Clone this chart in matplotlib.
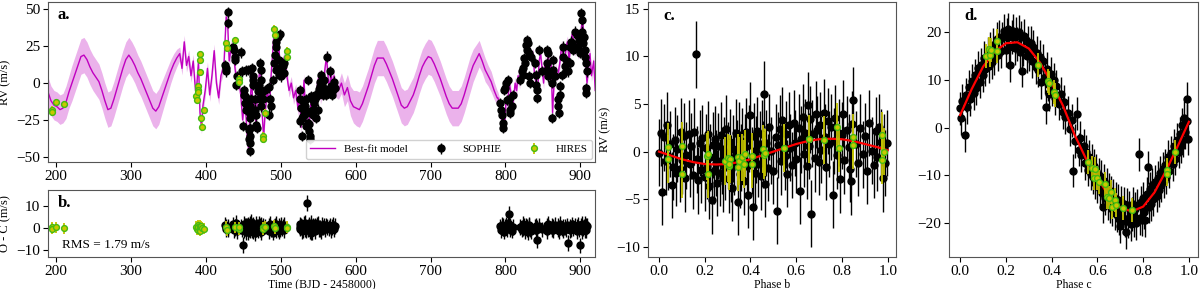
import numpy as np
import matplotlib
matplotlib.use("Agg")
import matplotlib.pyplot as plt

plt.rcParams['font.family'] = 'serif'
plt.rcParams['font.serif'] = ['Liberation Serif', 'DejaVu Serif']
plt.rcParams['mathtext.fontset'] = 'stix'

# ---- SOPHIE radial velocities (time, RV, O-C) ----
sophie_t = [426.0, 426.2, 426.5, 429.5, 429.6, 436.2, 437.5, 438.4, 438.5, 440.7,
            442.0, 447.3, 448.2, 449.6, 450.5, 450.9, 451.8, 451.9, 453.1, 454.0,
            455.0, 456.3, 456.5, 457.6, 458.0, 458.5, 458.6, 458.7, 458.8, 458.9,
            459.0, 459.2, 460.7, 462.1, 462.2, 462.3, 462.9, 463.8, 465.2, 465.3,
            466.5, 467.4, 467.6, 469.6, 471.4, 471.9, 472.7, 472.9, 473.0, 473.2,
            474.0, 476.3, 478.5, 483.9, 484.3, 485.2, 487.4, 489.7, 491.0, 491.9,
            493.2, 494.1, 494.2, 496.4, 497.5, 498.0, 498.6, 498.8, 500.2, 501.0,
            503.0, 503.9, 504.5, 525.3, 525.5, 527.5, 527.8, 528.9, 532.0, 532.3,
            534.2, 535.2, 536.5, 536.7, 537.8, 538.7, 539.0, 541.0, 541.5, 543.1,
            543.4, 545.4, 546.0, 547.6, 549.8, 552.0, 552.8, 554.3, 555.0, 557.4,
            558.5, 560.1, 562.3, 564.1, 566.3, 567.0, 569.0, 569.5, 571.0, 572.5,
            526.0, 529.5, 530.5, 533.0, 538.0, 540.0, 544.0, 548.5, 550.5, 556.0,
            792.6, 793.5, 794.9, 796.2, 797.1, 798.0, 799.3, 801.5, 802.4, 803.8,
            805.1, 806.0, 806.2, 808.2, 819.4, 821.6, 823.0, 823.8, 824.7, 826.1,
            827.4, 828.3, 829.2, 830.5, 831.9, 832.0, 832.8, 839.4, 840.8, 841.0,
            841.7, 842.5, 855.0, 855.2, 855.4, 857.3, 857.5, 861.7, 863.0, 864.0,
            866.2, 870.6, 870.8, 872.0, 872.9, 873.1, 875.1, 876.4, 877.3, 879.5,
            880.9, 881.8, 884.0, 886.2, 886.4, 888.4, 890.7, 892.9, 895.1, 895.3,
            897.4, 898.7, 899.6, 900.9, 901.8, 902.7, 904.0, 904.9, 906.3, 907.6,
            907.6, 907.8, 908.5, 906.0, 888.0, 862.5, 834.0, 810.0, 844.6, 849.0]
sophie_rv = [12.4, 7.9, 10.0, 47.9, 41.0, 24.8, 22.6, 18.0, 15.8, -1.0,
             5.0, 20.8, 7.9, -29.3, -4.5, -8.0, -9.0, -13.5, -18.0, 8.6,
             -15.0, 9.0, -11.0, -31.6, -38.0, -15.8, -20.0, -23.7, -30.5, -35.7,
             -40.6, -46.0, -11.0, 10.0, 4.5, -1.0, 2.0, -20.0, -11.0, -18.0,
             -21.4, -28.2, -30.5, -5.6, -1.0, -11.0, 13.5, 9.0, 2.3, -15.8,
             -9.0, -11.0, -4.5, -2.9, -21.4, -11.0, -15.8, 2.3, 13.5, 19.0,
             24.8, 28.2, 9.0, 31.6, 5.6, 15.8, 33.2, 10.0, 4.5, 13.5,
             11.3, 6.8, 13.5, -4.5, -11.0, -17.0, -23.7, -36.0, -15.8, -20.3,
             -11.0, -20.0, 2.3, -27.0, -32.7, -36.0, -38.0, -9.0, -11.0, -21.4,
             -18.0, -11.0, -7.9, -23.7, -18.0, 1.0, -2.3, 5.6, -1.0, 2.3,
             -4.0, -7.9, 18.0, -4.5, 7.9, -2.0, -7.9, -4.5, 1.0, -3.0,
             -26.0, -22.6, -13.0, -29.0, -28.0, -19.0, -13.5, -9.0, -4.0, -8.0,
             -13.5, -18.0, -21.4, -27.0, -30.5, -4.5, -3.4, 0.0, -11.3, 2.3,
             -10.8, -18.0, -20.0, -15.8, 2.3, 7.9, 10.0, 5.6, 17.0, 13.5,
             26.0, 22.6, 29.3, 27.0, 20.3, 4.5, 0.0, 13.5, 5.6, -1.0,
             -4.5, -10.0, 22.6, 13.5, 9.0, 20.3, 4.5, -23.7, 9.0, 15.8,
             4.5, -11.0, -15.8, -20.3, -7.9, -2.3, 5.6, 24.8, 18.0, 11.3,
             7.9, 14.7, 7.9, 13.5, 24.8, 27.0, 22.6, 35.0, 32.7, 24.8,
             24.8, 29.3, 20.3, 47.4, 43.0, 35.0, 27.0, 31.6, 22.6, 13.5,
             -3.4, -6.8, 7.9, 18.0, 28.2, 0.0, 18.0, -8.0, 22.6, 8.0]
sophie_oc = [1.2, -0.8, 0.5, 0.3, -0.6, 1.5, -1.0, 0.4, -0.3, 2.2,
             -1.5, 0.6, -0.9, -7.8, 1.8, -1.2, 0.7, -0.4, 1.1, -2.0,
             0.8, 1.4, -2.1, 0.2, -0.7, 1.9, -1.3, 0.5, -0.2, 1.0,
             -0.5, 0.9, 2.5, -1.0, 0.3, -1.8, 1.2, 0.6, -2.4, 0.1,
             1.6, -0.8, 0.4, -1.1, 2.0, 0.7, -0.6, 1.3, -1.9, 0.2,
             -0.9, 1.1, 0.6, -1.4, 0.8, 1.7, -0.5, -2.2, 0.4, 1.0,
             -1.2, 0.3, 1.9, -0.6, -1.6, 0.9, 0.2, -0.8, 1.4, -0.3,
             0.6, -1.0, 1.2, 1.5, -0.4, 0.8, -1.7, 0.3, 2.1, -0.9,
             -1.1, 11.2, 0.5, -0.7, 1.4, -1.5, 0.2, 2.3, -2.0, 0.9,
             -0.3, 1.0, -1.4, 0.6, 1.8, -0.8, 0.2, -1.6, 1.3, 0.7,
             -0.5, 1.1, 0.4, -0.2, 0.9, -1.0, 0.3, 1.2, -0.6, 0.8,
             0.4, -1.2, 1.6, -0.3, 0.9, -2.2, 0.5, 1.4, -0.7, 0.2,
             0.6, -1.1, 1.4, -0.4, 0.9, -1.8, 0.3, 1.2, -0.7, 2.0,
             6.3, -0.5, 1.0, -1.3, 0.4, -0.9, 1.6, -0.2, 0.8, -1.5,
             1.1, -0.6, 0.3, -1.9, 0.7, 1.4, -0.8, 0.5, -1.2, 0.9,
             -5.6, 0.2, -1.4, 1.0, -0.3, 0.6, 1.7, -0.9, 0.4, -1.1,
             1.3, -0.7, 0.9, -1.6, 0.2, 1.8, -0.4, 0.6, -1.3, 0.3,
             -0.8, 1.1, -6.8, 0.5, -1.0, 1.5, -0.2, 0.9, -1.7, 0.4,
             1.2, -0.5, -8.0, 0.8, -1.4, 1.7, -0.3, 0.6, -1.1, 1.0,
             0.3, -1.2, 0.7, 1.9, -0.6, 1.0, -1.5, 0.4, 0.9, -0.8]
sophie_err = 3.5

# ---- HIRES radial velocities ----
hires_t = [194.2, 194.6, 200.0, 210.2, 387.2, 387.9, 389.4, 389.6, 390.0, 391.6,
           391.8, 392.5, 393.9, 394.1, 397.0, 427.3, 427.5, 438.4, 443.8, 444.0,
           476.3, 476.5, 478.5, 491.0, 491.9, 508.4, 508.6]
hires_rv = [-18.0, -19.5, -13.0, -14.5, -9.0, -11.3, -2.3, -4.5, -6.3, 19.6,
            15.8, 7.2, -24.0, -29.8, -18.5, 27.0, 24.0, 29.0, 2.7, 0.5,
            -36.0, -38.0, -20.3, 36.6, 32.7, 21.9, 17.6]
hires_oc = [0.3, -0.4, 0.2, -0.3, 0.5, -0.8, 1.2, -1.0, 0.4, -0.2,
            0.9, -1.3, 0.6, 0.0, -0.5, 0.4, -1.1, 0.2, -0.7, 0.3,
            0.1, -0.6, 0.5, 0.8, -0.2, 0.4, 0.0]
hires_err = 2.5

# ---- best-fit model (knots) and 1-sigma half width ----
gap1_t = list(range(189, 362, 4))
gap1_rv = [-6, -12, -15, -16, -18, -17, -13, -6, 0, 6,
           12, 18, 19, 16, 11, 7, 4, 1, -5, -12,
           -18, -17, -11, -4, 3, 10, 16, 19, 16, 12,
           7, 3, -2, -7, -12, -17, -19, -16, -10, -4,
           2, 8, 13, 17]
gap1_hw = [10, 10, 10, 10, 10, 10, 11, 11, 12, 12,
           12, 12, 12, 12, 12, 12, 12, 12, 12, 12,
           12, 12, 12, 12, 12, 12, 12, 12, 12, 12,
           12, 12, 12, 12, 12, 12, 12, 12, 11, 10,
           9, 8, 7, 6]
dat1_t = [365, 368, 371, 374, 377, 380, 383, 386, 388, 390,
          392, 394, 396, 399, 402, 405, 408, 411, 414, 417,
          420, 424, 427, 429, 431, 434, 437, 440, 443, 446,
          449, 452, 455, 457, 459, 461, 463, 465, 467, 469,
          471, 473, 475, 477, 479, 482, 485, 487, 489, 491,
          493, 495, 497, 499, 502, 505, 508, 511, 514, 517,
          520, 523, 525, 527, 529, 531, 533, 535, 537, 539,
          541, 543, 545, 547, 549, 551, 553, 555, 557, 559,
          561, 563, 565, 567, 569, 571, 573]
dat1_rv = [20, 10, 28, 12, 18, 5, 15, -5, 0, 15,
           -20, -30, -15, -5, 10, -8, 5, 22, 0, -10,
           5, 12, 45, 40, 15, 25, 18, 5, 0, -5,
           -25, -10, -35, -45, -15, 5, -20, -10, -30, -5,
           5, 12, -20, -37, -20, -5, -15, 5, 20, 35,
           28, 15, 30, 10, 12, 18, 5, -5, 0, -10,
           -5, -18, -5, -30, -15, 2, -20, -25, -35, -20,
           -10, -25, -12, -20, 0, 5, -10, -5, 0, 10,
           18, 5, -5, 8, -2, 5, -5]
dat1_hw = 4.5
gap2_t = list(range(577, 790, 4))
gap2_rv = [-5, 0, -8, -3, -12, -16, -17, -18, -14, -8,
           -2, 5, 12, 17, 17, 17, 13, 8, 3, -3,
           -9, -15, -17, -16, -12, -8, -2, 5, 11, 15,
           18, 17, 13, 8, 3, -3, -9, -14, -17, -17,
           -17, -14, -8, -1, 6, 12, 16, 20, 15, 9,
           5, 1, -5, -10]
gap2_hw = [6, 7, 8, 9, 10, 11, 12, 12, 12, 12,
           12, 12, 12, 12, 12, 12, 12, 12, 12, 12,
           12, 12, 12, 12, 12, 12, 12, 12, 12, 12,
           12, 12, 12, 12, 12, 12, 12, 12, 12, 12,
           12, 12, 12, 12, 12, 11, 10, 9, 8, 8,
           7, 7, 6, 5]
dat2_t = [790, 793, 795, 797, 799, 801, 803, 805, 807, 809,
          811, 813, 815, 817, 819, 821, 823, 825, 827, 829,
          831, 833, 835, 837, 839, 841, 843, 845, 847, 849,
          851, 853, 855, 857, 859, 861, 863, 865, 867, 869,
          871, 873, 875, 877, 879, 881, 883, 885, 887, 889,
          891, 893, 895, 897, 899, 901, 903, 905, 907, 909,
          911, 913, 915, 918, 920]
dat2_rv = [-10, -15, -25, -20, -30, -10, -15, 0, -5, -18,
           -10, 0, -5, 5, 0, 10, 5, 15, 10, 25,
           28, 20, 15, 20, 5, 0, -8, 15, 20, 10,
           0, 15, 8, 20, 10, 15, -20, 0, 10, 5,
           8, 15, 25, 20, 10, 25, 28, 15, 25, 33,
           30, 22, 28, 20, 25, 35, 45, 30, 15, 0,
           10, 20, 5, 15, -5]
dat2_hw = 4.0

# ---- phase-folded planet b ----
phase_b = [0.00, 0.01, 0.015, 0.02, 0.03, 0.035, 0.04, 0.05, 0.055, 0.06,
           0.07, 0.075, 0.08, 0.09, 0.095, 0.10, 0.11, 0.115, 0.12, 0.13,
           0.135, 0.14, 0.15, 0.155, 0.16, 0.165, 0.17, 0.18, 0.185, 0.19,
           0.20, 0.205, 0.21, 0.215, 0.22, 0.225, 0.23, 0.235, 0.24, 0.245,
           0.25, 0.255, 0.26, 0.265, 0.27, 0.275, 0.28, 0.285, 0.29, 0.295,
           0.30, 0.305, 0.31, 0.315, 0.32, 0.325, 0.33, 0.335, 0.34, 0.345,
           0.35, 0.355, 0.36, 0.365, 0.37, 0.375, 0.38, 0.385, 0.39, 0.395,
           0.40, 0.405, 0.41, 0.415, 0.42, 0.425, 0.43, 0.435, 0.44, 0.445,
           0.45, 0.455, 0.46, 0.465, 0.47, 0.475, 0.48, 0.49, 0.50, 0.51,
           0.515, 0.52, 0.53, 0.535, 0.54, 0.55, 0.555, 0.56, 0.57, 0.575,
           0.58, 0.59, 0.595, 0.60, 0.61, 0.615, 0.62, 0.63, 0.635, 0.64,
           0.645, 0.65, 0.655, 0.66, 0.665, 0.67, 0.68, 0.685, 0.69, 0.70,
           0.705, 0.71, 0.72, 0.725, 0.73, 0.74, 0.745, 0.75, 0.76, 0.765,
           0.77, 0.78, 0.785, 0.79, 0.80, 0.805, 0.81, 0.82, 0.83, 0.835,
           0.84, 0.845, 0.85, 0.86, 0.87, 0.88, 0.89, 0.90, 0.91, 0.92,
           0.93, 0.94, 0.95, 0.955, 0.96, 0.97, 0.98, 0.985, 0.99, 0.995]
rv_b = [-0.1, 2.0, -4.2, 1.5, -1.0, 2.8, -0.5, 0.8, -3.5, -1.6,
        1.2, -2.2, 0.3, -1.8, 2.1, -0.9, 1.6, -2.8, -0.4, 1.9,
        -1.3, 0.6, -2.5, 2.1, 10.2, -0.8, -3.0, 0.9, -1.9, 1.4,
        -2.7, 0.4, -1.5, 1.8, -3.6, -0.6, -5.1, 0.7, -2.0, 1.3,
        -1.2, -3.3, 0.6, -2.2, 1.7, -0.9, -2.8, 0.1, -1.6, 2.4,
        -0.4, -2.9, 1.0, -1.8, -3.8, 0.3, -1.1, 2.0, -0.2, -5.3,
        1.7, -2.4, -0.6, 1.1, -3.1, 0.5, 2.1, -1.5, -4.5, 1.4,
        3.8, -0.9, -5.8, 1.6, -2.2, 0.2, 2.2, -1.3, 0.8, -2.6,
        1.9, -0.3, 6.0, -3.4, 0.9, -1.7, 2.6, 0.1, -2.0, 1.5,
        -6.2, 0.7, 2.4, -1.0, 3.3, -0.5, 1.8, -2.3, 2.8, 0.4,
        -1.4, 3.0, 0.9, -0.8, 2.5, -4.1, 1.3, 3.6, -0.2, 2.0,
        -1.5, 4.9, 0.6, 3.4, -6.5, 1.9, -0.7, 3.9, 2.3, -1.1,
        2.8, 0.2, 4.1, 1.5, -1.6, 3.2, 0.8, 2.6, -4.5, 1.1,
        3.5, -0.4, 2.0, -2.9, 1.7, 4.0, -0.9, 2.3, 0.5, -1.8,
        -3.1, 2.9, 5.4, 0.8, -1.2, 2.5, -0.3, 1.6, -2.0, 3.0,
        0.1, -1.4, 2.2, -0.6, 2.6, 1.0, -2.8, 0.4, -1.2, 0.9]
phase_b_hires = [0.04, 0.04, 0.10, 0.10, 0.21, 0.215, 0.215, 0.29, 0.30, 0.305,
                 0.31, 0.305, 0.345, 0.345, 0.35, 0.365, 0.37, 0.375, 0.405, 0.405,
                 0.455, 0.46, 0.465, 0.545, 0.655, 0.72, 0.78, 0.785, 0.85, 0.85,
                 0.975, 0.975, 0.985]
rv_b_hires = [0.5, -0.8, 0.6, -2.4, -0.5, -2.4, -0.3, -1.0, -0.7, -1.5,
              -0.8, -1.3, -0.6, -1.6, -1.0, -0.6, -1.3, -0.2, -0.5, -1.3,
              0.3, -0.4, -0.1, 0.4, 1.3, 1.2, 2.6, 0.4, 1.5, 0.7,
              1.7, -0.9, 0.0]
curve_phase = [0.0, 0.05, 0.1, 0.15, 0.2, 0.25, 0.3, 0.35, 0.4, 0.45, 0.5,
               0.55, 0.6, 0.65, 0.7, 0.75, 0.8, 0.85, 0.9, 0.95, 1.0]
curve_b = [0.0, -0.4, -0.8, -1.1, -1.3, -1.35, -1.3, -1.1, -0.8, -0.4, 0.0,
           0.4, 0.8, 1.1, 1.3, 1.35, 1.3, 1.1, 0.8, 0.5, 0.15]

# ---- phase-folded planet c ----
phase_c = [0.00, 0.005, 0.01, 0.02, 0.025, 0.03, 0.04, 0.045, 0.05, 0.06,
           0.065, 0.07, 0.08, 0.085, 0.09, 0.10, 0.105, 0.11, 0.12, 0.125,
           0.13, 0.14, 0.145, 0.15, 0.16, 0.165, 0.17, 0.18, 0.185, 0.19,
           0.20, 0.205, 0.21, 0.215, 0.22, 0.225, 0.23, 0.24, 0.245, 0.25,
           0.255, 0.26, 0.265, 0.27, 0.275, 0.28, 0.29, 0.295, 0.30, 0.31,
           0.315, 0.32, 0.33, 0.335, 0.34, 0.35, 0.355, 0.36, 0.37, 0.375,
           0.38, 0.385, 0.39, 0.395, 0.40, 0.41, 0.415, 0.42, 0.43, 0.44,
           0.45, 0.455, 0.46, 0.47, 0.48, 0.49, 0.495, 0.50, 0.51, 0.52,
           0.525, 0.53, 0.54, 0.545, 0.55, 0.56, 0.565, 0.57, 0.575, 0.58,
           0.585, 0.59, 0.595, 0.60, 0.605, 0.61, 0.615, 0.62, 0.625, 0.63,
           0.635, 0.64, 0.645, 0.65, 0.655, 0.66, 0.665, 0.67, 0.675, 0.68,
           0.685, 0.69, 0.695, 0.70, 0.705, 0.71, 0.715, 0.72, 0.725, 0.73,
           0.735, 0.74, 0.745, 0.75, 0.755, 0.76, 0.765, 0.77, 0.775, 0.78,
           0.785, 0.79, 0.795, 0.80, 0.805, 0.81, 0.815, 0.82, 0.825, 0.83,
           0.835, 0.84, 0.845, 0.85, 0.86, 0.865, 0.87, 0.875, 0.88, 0.885,
           0.89, 0.895, 0.90, 0.91, 0.915, 0.92, 0.93, 0.935, 0.94, 0.95,
           0.955, 0.96, 0.965, 0.97, 0.975, 0.98, 0.985, 0.99, 0.993, 0.995]
rv_c = [4.0, 2.0, 5.5, -1.5, 6.8, 4.2, 8.5, 5.9, 9.8, 7.2,
        10.9, 8.3, 12.5, 9.6, 13.0, 11.0, 14.6, 12.2, 15.3, 12.8,
        16.4, 13.6, 17.2, 14.5, 18.5, 15.2, 19.0, 15.9, 18.6, 20.1,
        16.2, 19.4, 20.5, 16.8, 13.0, 18.9, 20.2, 16.5, 19.6, 17.4,
        20.0, 15.8, 18.8, 11.9, 16.4, 19.2, 14.9, 17.8, 15.3, 17.6,
        13.8, 16.9, 12.6, 15.6, 12.0, 14.8, 9.5, 13.9, 10.6, 4.3,
        12.3, 9.1, 7.0, 11.2, 8.0, 9.9, 6.2, 8.6, 5.0, 7.1,
        3.2, 5.4, 2.1, 3.0, -0.4, 1.5, -9.0, -2.8, 2.9, -4.6,
        -2.2, -5.8, -3.9, -7.5, -5.0, -8.8, -6.1, -9.6, -7.0, -10.4,
        -8.0, -11.5, -9.0, -12.2, -9.8, -12.9, -10.3, -13.6, -16.5, -11.2,
        -14.7, -12.0, -15.8, -13.0, -16.4, -13.6, -17.1, -14.2, -17.8, -14.9,
        -18.3, -15.2, -19.0, -20.5, -15.6, -18.8, -16.0, -19.4, -21.8, -16.2,
        -19.6, -16.8, -20.2, -18.0, -15.9, -19.3, -17.0, -20.0, -16.3, -5.6,
        -18.9, -15.6, -19.2, -14.8, -17.6, -19.3, -13.9, -8.3, -16.5, -12.8,
        -15.9, -11.9, -15.0, -11.4, -14.2, -10.5, -13.1, -9.4, -12.0, -8.6,
        -11.1, -7.9, -10.3, -6.2, -9.1, -5.3, -7.6, -3.9, -6.5, -2.6,
        -5.0, -1.4, -3.8, 0.6, -2.6, 2.0, -0.9, 1.4, 6.0, -2.3]
phase_c_hires = [0.115, 0.125, 0.13, 0.135, 0.16, 0.16, 0.34, 0.385, 0.39, 0.41,
                 0.415, 0.56, 0.575, 0.585, 0.59, 0.60, 0.605, 0.635, 0.64, 0.65,
                 0.66, 0.665, 0.675, 0.68, 0.71, 0.75, 0.905, 0.905, 0.94]
rv_c_hires = [15.0, 16.4, 15.2, 16.2, 18.0, 16.0, 13.1, 9.8, 9.2, 7.5,
              6.7, -7.1, -8.5, -10.6, -8.7, -10.5, -11.3, -11.7, -14.5, -14.6,
              -13.5, -16.5, -15.1, -16.2, -16.7, -17.2, -8.8, -9.6, -5.2]
curve_c = [2.6, 8.0, 12.7, 15.8, 17.6, 17.8, 16.5, 13.5, 9.3, 4.5, -1.5,
           -6.5, -10.5, -14.3, -16.7, -17.5, -16.5, -13.5, -9.0, -4.0, 1.2]

# ---- styles ----
sophie_kw = dict(fmt='o', color='k', ms=5, elinewidth=1.0, capsize=0, zorder=3)
hires_kw = dict(fmt='o', ms=4.2, mfc='#c8c800', mec='#44bb11', mew=1.0,
                ecolor='#c2c200', elinewidth=1.3, capsize=0, zorder=5)
model_color = '#c000c0'

fig = plt.figure(figsize=(12, 2.89), dpi=100)
ax_a = fig.add_axes([0.040, 0.439, 0.456, 0.554])
ax_b = fig.add_axes([0.040, 0.111, 0.456, 0.232])
ax_c = fig.add_axes([0.540, 0.111, 0.207, 0.882])
ax_d = fig.add_axes([0.791, 0.111, 0.207, 0.882])

# panel a
segments = [(gap1_t, gap1_rv, gap1_hw), (dat1_t, dat1_rv, dat1_hw),
            (gap2_t, gap2_rv, gap2_hw), (dat2_t, dat2_rv, dat2_hw)]
mt = np.concatenate([np.asarray(s[0], float) for s in segments])
mrv = np.concatenate([np.asarray(s[1], float) for s in segments])
mhw = np.concatenate([np.broadcast_to(np.asarray(s[2], float), len(s[0])) for s in segments])
ax_a.fill_between(mt, mrv - mhw, mrv + mhw, color=model_color, alpha=0.3, lw=0, zorder=1)
ax_a.plot(mt, mrv, color=model_color, lw=1.0, zorder=2, label='Best-fit model')
ax_a.errorbar(sophie_t, sophie_rv, yerr=sophie_err, label='SOPHIE', **sophie_kw)
ax_a.errorbar(hires_t, hires_rv, yerr=hires_err, label='HIRES', **hires_kw)
ax_a.set_xlim(189, 920)
ax_a.set_ylim(-53.6, 55)
ax_a.set_yticks([-50, -25, 0, 25, 50])
ax_a.set_xticks(range(200, 901, 100))
ax_a.set_ylabel('RV (m/s)', fontsize=9)
ax_a.legend(loc='lower right', ncol=3, fontsize=8, columnspacing=1.9,
            handlelength=2.2, borderaxespad=0.3, framealpha=0.9)
ax_a.text(0.018, 0.97, 'a.', transform=ax_a.transAxes, fontsize=12,
          fontweight='bold', va='top')

# panel b
ax_b.errorbar(sophie_t, sophie_oc, yerr=sophie_err, **sophie_kw)
ax_b.errorbar(hires_t, hires_oc, yerr=hires_err, **hires_kw)
ax_b.set_xlim(189, 920)
ax_b.set_ylim(-13.2, 17.1)
ax_b.set_yticks([-10, 0, 10])
ax_b.set_xticks(range(200, 901, 100))
ax_b.set_xlabel('Time (BJD - 2458000)', fontsize=8.5, labelpad=1)
ax_b.set_ylabel('O - C (m/s)', fontsize=9)
ax_b.text(0.018, 0.93, 'b.', transform=ax_b.transAxes, fontsize=12,
          fontweight='bold', va='top')
ax_b.text(0.025, 0.18, 'RMS = 1.79 m/s', transform=ax_b.transAxes,
          fontsize=9.5, va='center')

# panel c
ax_c.errorbar(phase_b, rv_b, yerr=sophie_err, **sophie_kw)
ax_c.plot(curve_phase, curve_b, color='r', lw=1.6, zorder=4)
ax_c.errorbar(phase_b_hires, rv_b_hires, yerr=hires_err, **hires_kw)
ax_c.set_xlim(-0.048, 1.038)
ax_c.set_ylim(-11.05, 15.7)
ax_c.set_xticks([0.0, 0.2, 0.4, 0.6, 0.8, 1.0])
ax_c.set_yticks([-10, -5, 0, 5, 10, 15])
ax_c.set_xlabel('Phase b', fontsize=8.5, labelpad=1)
ax_c.set_ylabel('RV (m/s)', fontsize=9)
ax_c.text(0.06, 0.975, 'c.', transform=ax_c.transAxes, fontsize=12,
          fontweight='bold', va='top')

# panel d
ax_d.errorbar(phase_c, rv_c, yerr=sophie_err, **sophie_kw)
ax_d.plot(curve_phase, curve_c, color='r', lw=1.6, zorder=4)
ax_d.errorbar(phase_c_hires, rv_c_hires, yerr=hires_err, **hires_kw)
ax_d.set_xlim(-0.048, 1.038)
ax_d.set_ylim(-27.0, 26.2)
ax_d.set_xticks([0.0, 0.2, 0.4, 0.6, 0.8, 1.0])
ax_d.set_yticks([-20, -10, 0, 10, 20])
ax_d.set_xlabel('Phase c', fontsize=8.5, labelpad=1)
ax_d.text(0.06, 0.975, 'd.', transform=ax_d.transAxes, fontsize=12,
          fontweight='bold', va='top')

for ax in (ax_a, ax_b, ax_c, ax_d):
    ax.tick_params(labelsize=11, direction='out', length=3.5, width=0.8, pad=2)
    for sp in ax.spines.values():
        sp.set_color('#555555')

fig.savefig('out.png', dpi=100)
